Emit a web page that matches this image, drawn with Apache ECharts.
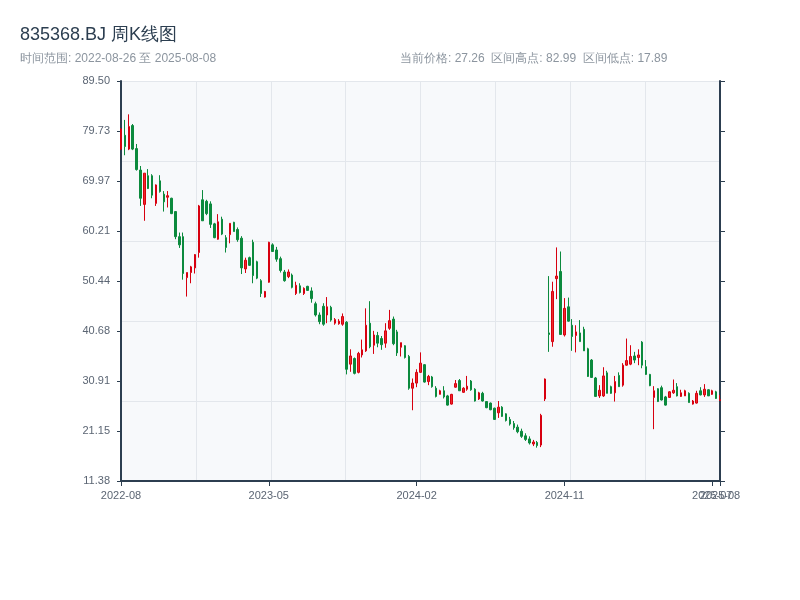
<!DOCTYPE html>
<html>
<head>
<meta charset="utf-8">
<script src="https://cdn.jsdelivr.net/npm/echarts@6/dist/echarts.min.js"></script>
<style>html,body{margin:0;padding:0;background:#fff;}#c{width:800px;height:600px;}</style>
</head>
<body>
<div id="c"></div>
<script>
const dates = [
'2022-08-26','2022-09-02','2022-09-09','2022-09-16','2022-09-23','2022-09-30','2022-10-07','2022-10-14','2022-10-21','2022-10-28',
'2022-11-04','2022-11-11','2022-11-18','2022-11-25','2022-12-02','2022-12-09','2022-12-16','2022-12-23','2022-12-30','2023-01-06',
'2023-01-13','2023-01-20','2023-01-27','2023-02-03','2023-02-10','2023-02-17','2023-02-24','2023-03-03','2023-03-10','2023-03-17',
'2023-03-24','2023-03-31','2023-04-07','2023-04-14','2023-04-21','2023-04-28','2023-05-05','2023-05-12','2023-05-19','2023-05-26',
'2023-06-02','2023-06-09','2023-06-16','2023-06-23','2023-06-30','2023-07-07','2023-07-14','2023-07-21','2023-07-28','2023-08-04',
'2023-08-11','2023-08-18','2023-08-25','2023-09-01','2023-09-08','2023-09-15','2023-09-22','2023-09-29','2023-10-06','2023-10-13',
'2023-10-20','2023-10-27','2023-11-03','2023-11-10','2023-11-17','2023-11-24','2023-12-01','2023-12-08','2023-12-15','2023-12-22',
'2023-12-29','2024-01-05','2024-01-12','2024-01-19','2024-01-26','2024-02-02','2024-02-09','2024-02-16','2024-02-23','2024-03-01',
'2024-03-08','2024-03-15','2024-03-22','2024-03-29','2024-04-05','2024-04-12','2024-04-19','2024-04-26','2024-05-03','2024-05-10',
'2024-05-17','2024-05-24','2024-05-31','2024-06-07','2024-06-14','2024-06-21','2024-06-28','2024-07-05','2024-07-12','2024-07-19',
'2024-07-26','2024-08-02','2024-08-09','2024-08-16','2024-08-23','2024-08-30','2024-09-06','2024-09-13','2024-09-20','2024-09-27',
'2024-10-04','2024-10-11','2024-10-18','2024-10-25','2024-11-01','2024-11-08','2024-11-15','2024-11-22','2024-11-29','2024-12-06',
'2024-12-13','2024-12-20','2024-12-27','2025-01-03','2025-01-10','2025-01-17','2025-01-24','2025-01-31','2025-02-07','2025-02-14',
'2025-02-21','2025-02-28','2025-03-07','2025-03-14','2025-03-21','2025-03-28','2025-04-04','2025-04-11','2025-04-18','2025-04-25',
'2025-05-02','2025-05-09','2025-05-16','2025-05-23','2025-05-30','2025-06-06','2025-06-13','2025-06-20','2025-06-27','2025-07-04',
'2025-07-11','2025-07-18','2025-07-25','2025-08-01','2025-08-08'
];
const openP = [
76.2,78.9,76.2,80.8,76.3,72.1,65.4,71.0,71.0,65.6,70.0,67.4,66.8,66.6,64.0,59.1,59.1,51.1,52.1,53.0,
56.0,66.3,66.0,65.5,61.6,58.6,62.5,58.9,59.5,61.9,60.5,58.8,52.8,55.0,58.0,54.2,50.5,47.3,50.2,57.5,
56.5,54.8,52.2,51.3,51.6,48.0,49.5,48.0,49.4,48.5,46.0,43.8,45.5,43.8,45.3,42.2,42.1,42.0,42.4,34.2,
35.3,32.6,36.0,36.8,42.2,37.9,39.8,39.2,38.3,41.2,43.0,40.5,37.5,37.8,35.7,29.5,30.5,32.6,34.1,30.8,
31.7,29.5,28.3,29.0,28.0,26.4,29.7,31.0,28.7,29.3,30.9,29.3,27.4,28.5,26.9,26.6,25.6,24.7,25.8,24.5,
23.4,22.6,21.9,21.1,20.2,19.6,18.6,18.9,18.4,27.4,40.3,38.6,50.9,52.3,39.9,45.4,41.8,39.8,40.3,41.0,
37.2,35.0,31.5,28.0,28.0,32.5,29.8,28.6,32.0,30.1,34.0,34.2,35.8,35.5,38.5,33.7,32.2,27.7,29.4,29.6,
27.8,27.7,28.6,29.8,27.9,28.0,28.5,26.4,26.6,29.0,28.2,29.2,28.3,28.8,27.1
];
const closeP = [
80.1,76.7,80.6,76.2,72.2,66.6,71.5,68.5,67.2,69.2,67.9,65.9,67.1,63.6,59.1,57.5,51.9,52.1,53.2,55.6,
65.1,62.2,63.6,61.5,58.9,62.0,59.6,57.0,61.7,60.1,58.5,53.0,54.5,53.5,51.5,51.0,48.0,48.4,58.0,56.2,
54.7,52.5,50.5,52.2,49.2,49.6,48.2,49.0,48.6,47.0,43.8,42.5,42.0,45.4,42.8,42.9,42.6,43.5,33.2,35.8,
32.4,36.3,37.0,41.8,37.6,39.9,38.3,38.0,40.7,42.7,38.2,36.4,38.4,35.5,29.5,30.5,32.6,34.4,30.7,31.8,
29.8,27.9,29.0,27.8,26.2,28.3,30.4,29.0,29.5,29.9,29.2,27.0,28.6,27.0,25.7,25.3,23.4,25.8,24.0,23.2,
22.5,21.8,21.0,20.1,19.5,18.8,19.0,18.3,24.2,31.3,40.0,48.4,51.4,40.0,45.1,42.6,39.6,40.5,38.6,36.8,
31.8,31.6,27.9,29.1,31.9,28.5,28.5,30.8,29.8,34.0,34.9,35.7,35.0,36.0,34.0,32.2,30.0,29.0,26.9,27.2,
26.2,28.8,29.1,28.0,28.6,29.0,26.7,27.0,28.5,28.2,29.3,28.0,29.0,27.5,27.26
];
const lowP = [
76.0,75.0,76.0,76.0,72.0,65.1,62.2,68.4,66.6,65.1,67.7,64.0,64.8,63.5,58.6,56.9,50.7,47.4,50.0,51.9,
55.0,62.2,63.3,60.8,58.8,58.5,59.4,56.0,57.8,60.1,58.1,51.8,52.0,53.4,50.0,50.8,47.3,47.2,50.1,56.1,
54.2,52.1,50.3,51.0,49.0,47.7,48.0,47.7,48.5,46.2,43.5,42.0,41.7,42.2,42.5,41.9,41.9,41.7,32.2,32.7,
32.2,32.4,35.5,36.6,37.3,36.2,37.5,37.0,37.4,40.9,37.9,35.8,35.7,35.3,29.2,25.2,29.7,32.5,30.6,30.1,
29.6,27.7,28.3,27.5,26.1,26.3,29.6,29.0,28.6,29.0,29.0,26.9,27.2,26.9,25.6,25.2,23.3,23.7,23.9,23.0,
22.2,21.4,20.7,19.8,19.2,18.5,18.2,17.89,18.0,27.0,36.6,37.6,46.9,39.9,39.6,42.5,36.8,36.5,38.6,36.8,
31.7,31.5,27.8,27.6,27.8,28.5,28.4,26.9,29.8,29.8,33.9,34.0,34.4,34.0,33.4,32.1,29.9,21.5,26.8,27.1,
26.1,27.6,28.4,27.9,27.8,28.0,26.7,26.3,26.5,28.1,27.8,28.0,28.2,27.4,27.0
];
const highP = [
80.3,81.9,82.99,81.1,77.2,72.9,71.5,72.3,71.3,69.3,71.1,68.0,68.0,66.7,64.1,59.9,59.9,52.1,53.4,55.7,
65.3,68.2,66.3,66.0,61.8,63.5,63.0,59.4,61.7,62.0,60.9,59.2,55.0,55.2,58.5,54.4,50.8,48.5,58.1,57.8,
57.1,55.2,52.6,52.7,51.9,50.3,50.0,49.2,49.5,49.2,46.4,44.3,46.1,47.3,45.6,43.2,43.0,44.1,42.6,37.1,
35.5,36.6,39.0,45.1,46.5,40.7,40.5,39.7,42.2,44.8,43.5,40.9,38.4,37.9,36.0,31.4,33.2,36.5,34.2,32.1,
31.9,29.9,29.2,29.9,28.2,28.4,31.1,31.3,29.7,31.9,31.1,29.5,28.8,28.8,27.0,26.7,25.7,27.0,26.0,24.6,
23.9,23.1,22.4,21.6,20.7,20.1,19.4,19.2,24.5,31.4,51.4,50.3,57.0,56.2,47.1,47.2,43.0,41.8,42.8,41.5,
37.4,35.2,31.7,30.1,33.6,32.9,30.0,31.9,32.6,34.4,39.2,37.9,36.6,37.1,38.7,35.0,32.3,29.9,29.5,30.0,
28.0,28.9,31.2,30.5,29.2,29.2,28.7,27.2,29.0,29.7,30.3,29.3,29.2,29.0,28.2
];
const yMin = 11.38, yMax = 89.50, ySplits = 8;
const yTickLabels = ['11.38','21.15','30.91','40.68','50.44','60.21','69.97','79.73','89.50'];
const xLabelStep = 38;
const titleText = '835368.BJ 周K线图';
const rangeText = '时间范围: 2022-08-26 至 2025-08-08';
const infoText = '当前价格: 27.26  区间高点: 82.99  区间低点: 17.89';

const yInterval = (yMax - yMin) / ySplits;
const kData = dates.map((d, i) => [openP[i], closeP[i], lowP[i], highP[i]]);
const lastIdx = dates.length - 1;
const isLabelIdx = i => i % xLabelStep === 0 || i === lastIdx;
const axisDark = '#2c3e50';
const labelColor = '#5b6573';

const chart = echarts.init(document.getElementById('c'), null, {renderer: 'canvas'});
chart.setOption({
  animation: false,
  backgroundColor: '#ffffff',
  title: [
    {text: titleText, left: 15, top: 21, textStyle: {fontSize: 18, fontWeight: 'normal', color: '#2c3e50'}},
    {text: rangeText, left: 15, top: 48, textStyle: {fontSize: 12, fontWeight: 'normal', color: '#8c959f'}},
    {text: infoText, left: 395, top: 48, textStyle: {fontSize: 12, fontWeight: 'normal', color: '#8c959f'}}
  ],
  grid: {left: 121, right: 80, top: 81, bottom: 119, show: true, backgroundColor: '#f7f9fb', borderWidth: 0},
  xAxis: [
    {
      type: 'category', data: dates, boundaryGap: false,
      axisLine: {lineStyle: {color: axisDark, width: 2}},
      axisTick: {length: 5, interval: (i) => isLabelIdx(i), lineStyle: {color: axisDark}},
      axisLabel: {interval: 0, color: labelColor, fontSize: 11, margin: 9,
        formatter: (v, i) => isLabelIdx(i) ? v.slice(0, 7) : ''},
      splitLine: {show: false}
    },
    {
      type: 'value', min: 0, max: 8, interval: 1, position: 'top',
      axisLine: {show: false}, axisTick: {show: false}, axisLabel: {show: false},
      splitLine: {show: true, lineStyle: {color: '#e3e7ec', width: 1}}
    }
  ],
  yAxis: [
    {
      type: 'value', min: yMin, max: yMax, interval: yInterval, position: 'left',
      axisLine: {show: true, lineStyle: {color: axisDark, width: 2}},
      axisTick: {show: true, length: 4, lineStyle: {color: axisDark}},
      axisLabel: {color: labelColor, fontSize: 11, margin: 11,
        formatter: v => yTickLabels[Math.round((v - yMin) / yInterval)] || v.toFixed(2)},
      splitLine: {show: false}
    },
    {
      type: 'value', min: 0, max: 5, interval: 1, position: 'left',
      axisLine: {show: false}, axisTick: {show: false}, axisLabel: {show: false},
      splitLine: {show: true, lineStyle: {color: '#e3e7ec', width: 1}}
    },
    {
      type: 'value', min: yMin, max: yMax, interval: yInterval, position: 'right',
      axisLine: {show: true, lineStyle: {color: axisDark, width: 2}},
      axisTick: {show: true, length: 5, lineStyle: {color: axisDark}},
      axisLabel: {show: false},
      splitLine: {show: false}
    }
  ],
  series: [{
    type: 'candlestick', xAxisIndex: 0, yAxisIndex: 0, data: kData, barWidth: 2,
    itemStyle: {color: '#ee2a2a', color0: '#0b8a3d', borderColor: '#d7000f', borderColor0: '#0b8a3d', borderWidth: 1}
  }]
});
</script>
</body>
</html>
